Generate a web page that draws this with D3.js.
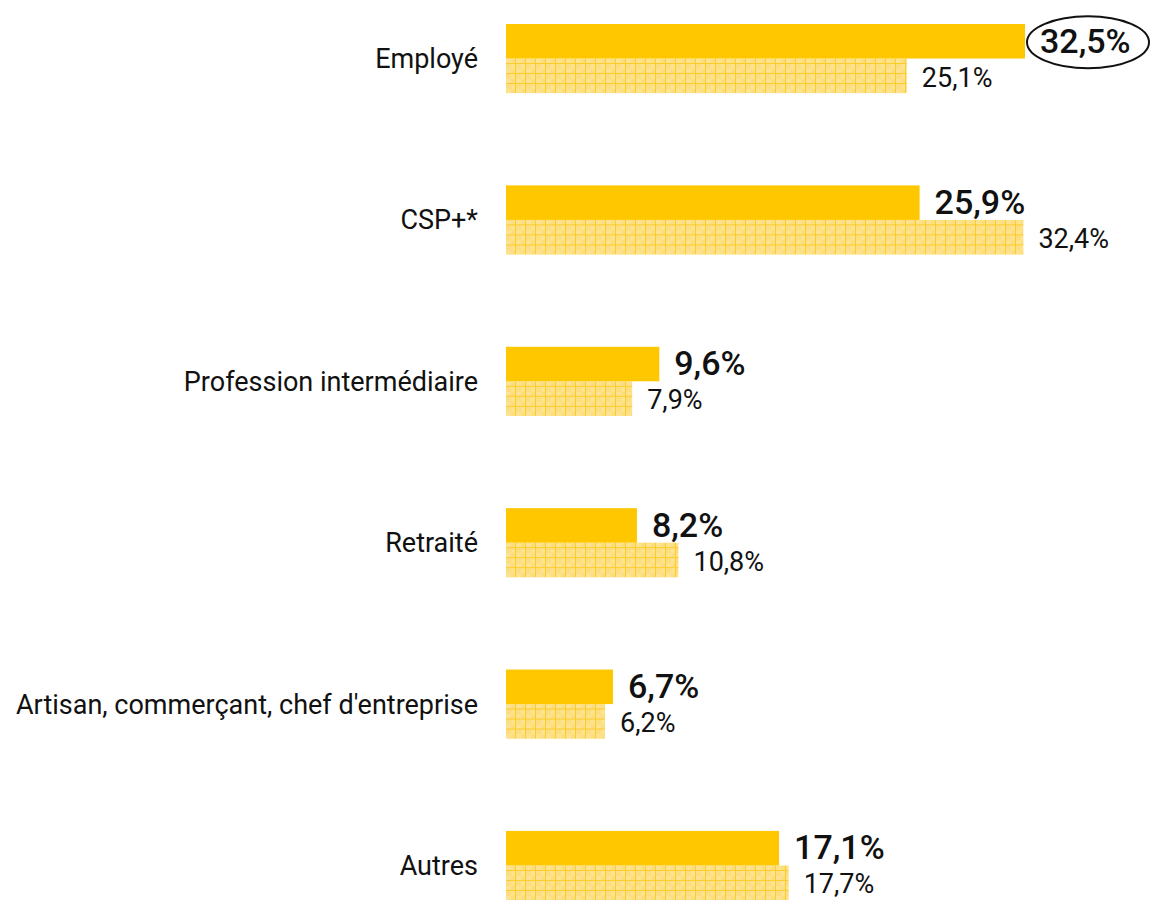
<!DOCTYPE html>
<html>
<head>
<meta charset="utf-8">
<script src="https://cdn.jsdelivr.net/npm/d3@7"></script>
<style>
  body { margin: 0; background: #fff; }
  svg text { font-family: Roboto, "Noto Sans", sans-serif; fill: #111; }
</style>
</head>
<body>
<script>
// categories and values
var categories = ["Employé", "CSP+*", "Profession intermédiaire", "Retraité", "Artisan, commerçant, chef d'entreprise", "Autres"]
var valeursPrincipales = [32.5, 25.9, 9.6, 8.2, 6.7, 17.1]
var valeursReference = [25.1, 32.4, 7.9, 10.8, 6.2, 17.7]
var seriesNames = ["principale", "reference"]
var highlighted = "Employé"

function fmt(v){
    return d3.format(".1f")(v).replace(".", ",") + "%"
}

function draw(){
    var svg = d3.select("body").append("svg")
                .attr("width", 1157)
                .attr("height", 905)

    // pattern for the hatched bars
    var defs = svg.append("defs")
    var pat = defs.append("pattern")
                  .attr("id", "grille")
                  .attr("patternUnits", "userSpaceOnUse")
                  .attr("width", 10)
                  .attr("height", 10)
                  .attr("x", 506)
                  .attr("y", 0)
    pat.append("rect").attr("width", 10).attr("height", 10).attr("fill", "#fde38f")
    pat.append("rect").attr("x", 0).attr("y", 0).attr("width", 5).attr("height", 5).attr("fill", "#fdde7e")
    pat.append("rect").attr("x", 5).attr("y", 5).attr("width", 5).attr("height", 5).attr("fill", "#fdde7e")
    pat.append("path").attr("d", "M9.5,0V10M0,9.5H10").attr("stroke", "#fccc2a").attr("stroke-width", 1)

    var x = d3.scaleLinear().domain([0, 32.5]).range([506, 1025])

    var y = d3.scaleBand()
              .domain(categories)
              .range([24, 900])
              .paddingInner(0.572)
              .paddingOuter(0)

    var ySub = d3.scaleBand()
                 .domain(seriesNames)
                 .range([0, y.bandwidth()])

    var data = categories.map(function(c, i){
        return {cat: c, a: valeursPrincipales[i], b: valeursReference[i]}
    })

    var groups = svg.selectAll(".cat")
                    .data(data)
                    .enter()
                    .append("g")
                    .attr("class", "cat")
                    .attr("transform", function(d){ return "translate(0," + y(d.cat) + ")" })

    // category labels
    groups.append("text")
          .attr("x", 478)
          .attr("y", y.bandwidth() / 2)
          .attr("dy", "0.35em")
          .attr("text-anchor", "end")
          .style("font-size", "27px")
          .text(function(d){ return d.cat })

    // hatched bars
    groups.append("rect")
          .attr("x", x(0))
          .attr("y", ySub("reference"))
          .attr("width", function(d){ return x(d.b) - x(0) })
          .attr("height", ySub.bandwidth())
          .attr("fill", "url(#grille)")

    // solid bars
    groups.append("rect")
          .attr("x", x(0))
          .attr("y", ySub("principale"))
          .attr("width", function(d){ return x(d.a) - x(0) })
          .attr("height", ySub.bandwidth())
          .attr("fill", "#fec700")

    // labels
    groups.append("text")
          .attr("x", function(d){ return x(d.a) + 15 })
          .attr("y", ySub("principale") + ySub.bandwidth() / 2 - 1)
          .attr("dy", "0.36em")
          .style("font-size", "34px")
          .style("font-weight", "500")
          .text(function(d){ return fmt(d.a) })

    groups.append("text")
          .attr("x", function(d){ return x(d.b) + 15 })
          .attr("y", ySub("reference") + ySub.bandwidth() / 2 + 1)
          .attr("dy", "0.36em")
          .style("font-size", "27px")
          .text(function(d){ return fmt(d.b) })

    // ellipse on the highlighted value
    groups.filter(function(d){ return d.cat == highlighted })
          .append("ellipse")
          .attr("cx", function(d){ return x(d.a) + 63 })
          .attr("cy", ySub("principale") + ySub.bandwidth() / 2 + 1)
          .attr("rx", 61)
          .attr("ry", 26)
          .attr("fill", "none")
          .attr("stroke", "#111")
          .attr("stroke-width", 2)
}

draw()
</script>
</body>
</html>
